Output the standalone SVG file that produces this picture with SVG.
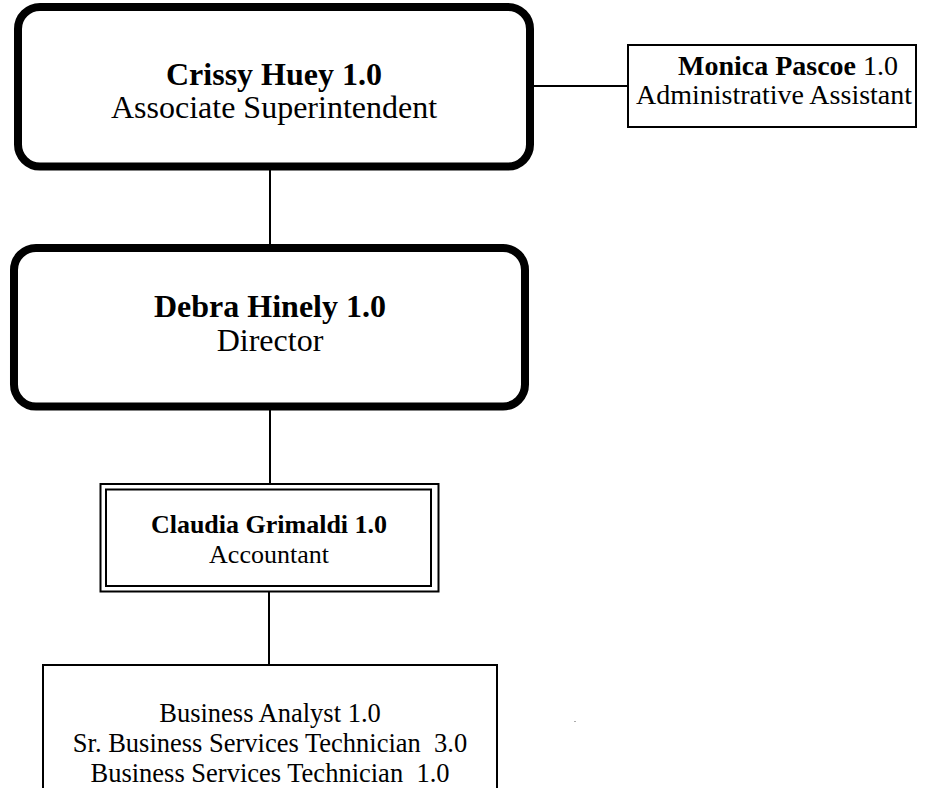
<svg xmlns="http://www.w3.org/2000/svg" width="928" height="788" viewBox="0 0 928 788">
<style>
.big{fill:#fff;stroke:#000;stroke-width:8}
.thin{fill:#fff;stroke:#000;stroke-width:2}
.conn{stroke:#000;stroke-width:2;fill:none}
text{font-family:"Liberation Serif","Times New Roman",serif;fill:#000;text-anchor:middle}
.b{font-weight:bold}
</style>
<rect width="928" height="788" fill="#fff"/>
<g id="connectors">
<line class="conn" x1="270" y1="170" x2="270" y2="244"/>
<line class="conn" x1="534" y1="86" x2="627" y2="86"/>
<line class="conn" x1="270" y1="410" x2="270" y2="484"/>
<line class="conn" x1="269" y1="591" x2="269" y2="665"/>
</g>
<g id="crissy">
<rect class="big" x="18" y="7" width="512" height="159.5" rx="22" ry="22"/>
<text x="274" y="85" class="b" font-size="32">Crissy Huey 1.0</text>
<text x="274" y="118" font-size="32">Associate Superintendent</text>
</g>
<g id="monica">
<rect class="thin" x="628" y="45" width="288" height="82"/>
<text x="788" y="75" font-size="28"><tspan class="b">Monica Pascoe</tspan> 1.0</text>
<text x="774" y="104" font-size="28">Administrative Assistant</text>
</g>
<g id="debra">
<rect class="big" x="14" y="248" width="511" height="158.5" rx="22" ry="22"/>
<text x="270" y="317" class="b" font-size="32">Debra Hinely 1.0</text>
<text x="270" y="351" font-size="32">Director</text>
</g>
<g id="claudia">
<rect class="thin" x="100.5" y="484" width="338" height="107.5"/>
<rect class="thin" x="106" y="489.5" width="325" height="96.5"/>
<text x="269" y="533" class="b" font-size="26">Claudia Grimaldi 1.0</text>
<text x="269" y="563" font-size="26">Accountant</text>
</g>
<g id="staff">
<rect class="thin" x="43" y="665" width="454" height="140"/>
<text x="270" y="722" font-size="26.5">Business Analyst 1.0</text>
<text x="270" y="752" font-size="26.5" xml:space="preserve">Sr. Business Services Technician  3.0</text>
<text x="270" y="782" font-size="26.5" xml:space="preserve">Business Services Technician  1.0</text>
</g>
<rect x="574.5" y="721" width="1" height="1" fill="#555"/>
</svg>
